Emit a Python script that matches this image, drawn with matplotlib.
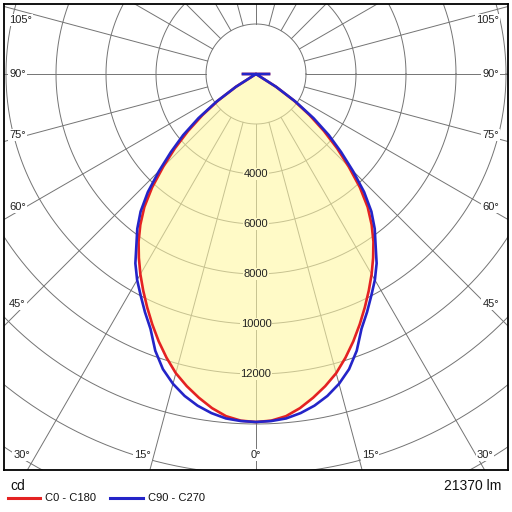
import numpy as np
import matplotlib
matplotlib.use('Agg')
import matplotlib.pyplot as plt
from matplotlib.lines import Line2D

# ---------------- data ----------------
gamma_deg = [0, 2.5, 5, 7.5, 10, 12.5, 15, 17.5, 20, 22.5, 25, 27.5, 30, 32.5,
             35, 37.5, 40, 42.5, 45, 47.5, 50, 52.5, 55, 57.5, 60, 62.5, 65,
             67.5, 70, 72.5, 75, 77.5, 80, 82.5, 85, 87.5, 90]
c0_c180 = [13920, 13880, 13740, 13480, 13150, 12790, 12390, 11900, 11380, 10840,
           10300, 9770, 9250, 8720, 8190, 7600, 6950, 6150, 5250, 4400, 3550,
           2700, 1850, 950, 0, 0, 0, 0, 0, 0, 0, 0, 0, 0, 0, 0, 520]
c90_c270 = [13920, 13895, 13830, 13680, 13470, 13190, 12830, 12380, 11780, 11030,
            10510, 9990, 9510, 8980, 8340, 7800, 7180, 6400, 5480, 4610, 3800,
            2900, 1940, 950, 0, 0, 0, 0, 0, 0, 0, 0, 0, 0, 0, 0, 520]
ring_values = [2000, 4000, 6000, 8000, 10000, 12000, 14000, 16000, 18000, 20000]
ring_labels = [4000, 6000, 8000, 10000, 12000]
spoke_angles = list(range(0, 360, 15))
side_labels = ['105°', '90°', '75°', '60°', '45°']
bottom_labels = ['30°', '15°', '0°', '15°', '30°']
legend_names = ['C0 - C180', 'C90 - C270']
flux_text = '21370 lm'
unit_text = 'cd'

# ---------------- style ----------------
FONT = 'Liberation Sans'
RED = '#e42222'
BLUE = '#2424c8'
GRID = '#747474'
W = 512

fig = plt.figure(figsize=(5.12, 5.12), dpi=100)
fig.patch.set_facecolor('white')
# frame: x 4..508 px, y 4..470 px ; polar centre at (256, 74) px ; 40 cd per px
ax = fig.add_axes([4 / W, 1 - 470 / W, 504 / W, 466 / W])
ax.set_xlim(-(256 - 4) * 40, (508 - 256) * 40)
ax.set_ylim(-(470 - 74) * 40, (74 - 4) * 40)
ax.set_xticks([])
ax.set_yticks([])
for s in ax.spines.values():
    s.set_linewidth(1.3)
    s.set_color('black')

# grid rings
t = np.linspace(0, 2 * np.pi, 721)
for r in ring_values:
    ax.plot(r * np.cos(t), r * np.sin(t), color=GRID, lw=0.7, zorder=1)
# spokes (gamma measured from straight down)
for a in spoke_angles:
    g = np.radians(a)
    ax.plot([2000 * np.sin(g), 30000 * np.sin(g)],
            [-2000 * np.cos(g), -30000 * np.cos(g)], color=GRID, lw=0.7, zorder=1)


def outline(vals):
    g = np.radians(np.array(gamma_deg))
    v = np.array(vals, dtype=float)
    xl = -v[::-1] * np.sin(g[::-1])
    yl = -v[::-1] * np.cos(g[::-1])
    xr = v * np.sin(g)
    yr = -v * np.cos(g)
    return np.concatenate([xl, xr[1:]]), np.concatenate([yl, yr[1:]])


fx, fy = outline(c0_c180)
ax.fill(fx, fy, color=(1.0, 0.967, 0.64), alpha=0.6, lw=0, zorder=2)
rx, ry = outline(c0_c180)
ax.plot(rx, ry, color=RED, lw=1.9, zorder=3, solid_joinstyle='round')
bx, by = outline(c90_c270)
ax.plot(bx, by, color=BLUE, lw=1.9, zorder=4, solid_joinstyle='round')

for v in ring_labels:
    ax.text(0, -v, str(v), ha='center', va='center', fontsize=8, family=FONT,
            color='#222222', zorder=6,
            bbox=dict(boxstyle='square,pad=0.08', fc='#fffac8', ec='none'))

# angle labels (figure pixel layout)
side_y = [20, 74, 135, 207, 304]
for lab, py in zip(side_labels, side_y):
    fig.text(9 / W, 1 - py / W, lab, ha='left', va='center', fontsize=8,
             family=FONT, color='#222222',
             bbox=dict(boxstyle='square,pad=0.1', fc='white', ec='none'))
    fig.text(499 / W, 1 - py / W, lab, ha='right', va='center', fontsize=8,
             family=FONT, color='#222222',
             bbox=dict(boxstyle='square,pad=0.1', fc='white', ec='none'))
bottom_x = [21.5, 142.5, 256, 370, 485]
for lab, px in zip(bottom_labels, bottom_x):
    fig.text(px / W, 1 - 455 / W, lab, ha='center', va='center', fontsize=8,
             family=FONT, color='#222222',
             bbox=dict(boxstyle='square,pad=0.1', fc='white', ec='none'))

# legend / footer
fig.text(10 / W, 1 - 486 / W, unit_text, ha='left', va='center', fontsize=10,
         family=FONT, color='#111111')
fig.text(501 / W, 1 - 486 / W, flux_text, ha='right', va='center', fontsize=10,
         family=FONT, color='#111111')
fig.add_artist(Line2D([8 / W, 40 / W], [1 - 498 / W] * 2, color=RED, lw=2.2,
                      transform=fig.transFigure))
fig.text(45 / W, 1 - 498 / W, legend_names[0], ha='left', va='center', fontsize=8,
         family=FONT, color='#111111')
fig.add_artist(Line2D([110 / W, 143 / W], [1 - 498 / W] * 2, color=BLUE, lw=2.2,
                      transform=fig.transFigure))
fig.text(148 / W, 1 - 498 / W, legend_names[1], ha='left', va='center', fontsize=8,
         family=FONT, color='#111111')

fig.savefig('out.png', dpi=100, facecolor='white')
